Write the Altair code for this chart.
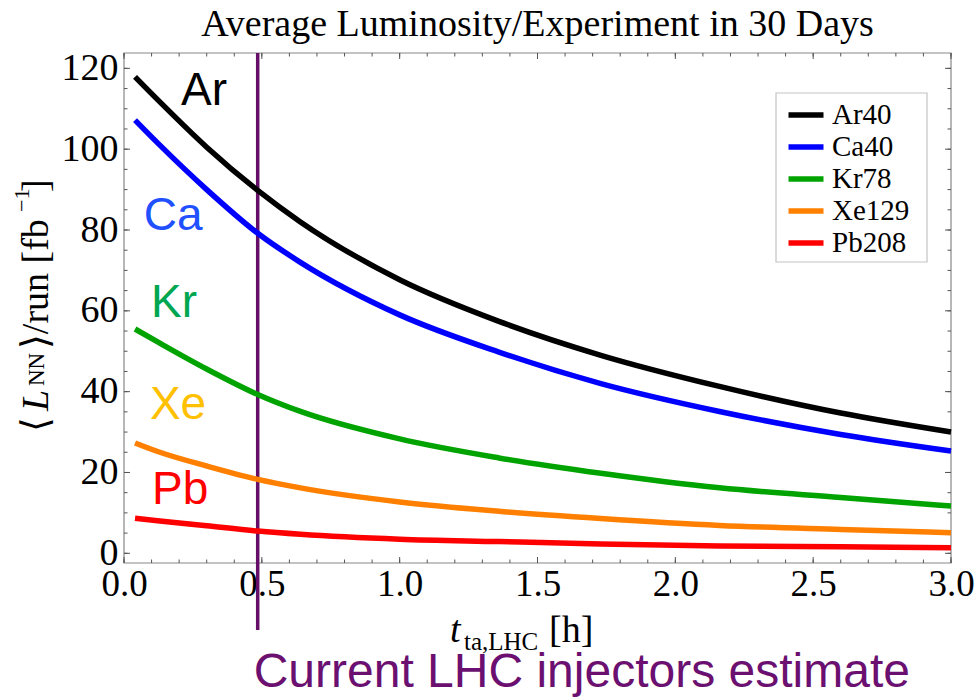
import altair as alt
import pandas as pd

# Turnaround time at the LHC [h]
t_h = [0.04, 0.13, 0.30, 0.485, 0.64, 1.0, 1.36, 1.73, 2.16, 2.6, 3.0]

# Average nucleon-nucleon luminosity per run [fb^-1]
lumi_ar40 = [117.9, 111.7, 100.5, 89.8, 82.0, 67.7, 57.4, 49.0, 41.3, 34.7, 30.0]
lumi_ca40 = [107.2, 101.0, 90.0, 79.2, 72.0, 59.0, 49.8, 42.0, 35.1, 29.4, 25.3]
lumi_kr78 = [55.5, 52.0, 45.6, 39.3, 35.1, 28.3, 23.6, 19.8, 16.2, 13.8, 11.7]
lumi_xe129 = [27.3, 25.0, 21.6, 18.3, 16.2, 12.7, 10.4, 8.6, 6.9, 5.9, 5.1]
lumi_pb208 = [8.7, 8.0, 6.8, 5.5, 4.7, 3.5, 2.9, 2.3, 1.8, 1.6, 1.4]

isotopes = ["Ar40", "Ca40", "Kr78", "Xe129", "Pb208"]
line_colors = ["#000000", "#0000ff", "#00a300", "#ff8000", "#ff0000"]

# Element tags written next to the curves (data coordinates of the text anchor)
tag_text = ["Ar", "Ca", "Kr", "Xe", "Pb"]
tag_t = [0.207, 0.072, 0.098, 0.094, 0.102]
tag_v = [110.9, 80.0, 58.5, 33.3, 12.1]
tag_colors = ["#000000", "#2050ff", "#00a650", "#ffc000", "#ff0000"]

# Turnaround time expected with the current LHC injectors
current_t = [0.485]

x_major = [0.0, 0.5, 1.0, 1.5, 2.0, 2.5, 3.0]
x_minor = [round(0.1 * i, 1) for i in range(31)]
y_major = [0, 20, 40, 60, 80, 100, 120]
y_minor = [5 * i for i in range(25)]

rows = []
for name, vals in zip(isotopes, [lumi_ar40, lumi_ca40, lumi_kr78, lumi_xe129, lumi_pb208]):
    for t, v in zip(t_h, vals):
        rows.append({"t": t, "v": v, "isotope": name})
curves = pd.DataFrame(rows)
tags = pd.DataFrame({"label": tag_text, "t": tag_t, "v": tag_v, "c": tag_colors})
marker = pd.DataFrame({"t": current_t})
one = pd.DataFrame({"k": [0]})

W, H = 827, 510
SERIF = "Liberation Serif, DejaVu Serif, serif"
SANS = "Liberation Sans, Arial, sans-serif"
FRAME = "#888888"
TICK = "#555555"

xscale = alt.Scale(domain=[0, 3], nice=False, zero=False)
yscale = alt.Scale(domain=[-2.4, 123.8], nice=False, zero=False)


def x_ticks(values, y0, y1):
    # inward frame ticks along the bottom or top edge
    return alt.Chart(pd.DataFrame({"t": values})).mark_rule(
        color=TICK, strokeWidth=1).encode(
        x=alt.X("t:Q", scale=xscale, axis=None), y=alt.value(y0), y2=alt.value(y1))


def y_ticks(values, x0, x1):
    # inward frame ticks along the left or right edge
    return alt.Chart(pd.DataFrame({"v": values})).mark_rule(
        color=TICK, strokeWidth=1).encode(
        y=alt.Y("v:Q", scale=yscale, axis=None), x=alt.value(x0), x2=alt.value(x1))


frame = alt.Chart(one).mark_rect(filled=False, stroke=FRAME, strokeWidth=1.2).encode(
    x=alt.value(0), x2=alt.value(W), y=alt.value(0), y2=alt.value(H))

legend_box = alt.Chart(one).mark_rect(fill="white", stroke="#c4c4c4", strokeWidth=1.2).encode(
    x=alt.value(652), x2=alt.value(803), y=alt.value(40), y2=alt.value(209))

lines = alt.Chart(curves).mark_line(strokeWidth=5.5, interpolate="monotone").encode(
    x=alt.X("t:Q", scale=xscale,
            axis=alt.Axis(orient="bottom", values=x_major, format=".1f", ticks=False,
                          domain=False, grid=False, title=None, labelFont=SERIF,
                          labelFontSize=37, labelColor="black", labelPadding=3,
                          labelFlush=False)),
    y=alt.Y("v:Q", scale=yscale,
            axis=alt.Axis(orient="left", values=y_major, format="d", ticks=False,
                          domain=False, grid=False, title=None, labelFont=SERIF,
                          labelFontSize=38, labelColor="black", labelPadding=6,
                          labelFlush=False)),
    color=alt.Color("isotope:N", sort=isotopes,
                    scale=alt.Scale(domain=isotopes, range=line_colors),
                    legend=alt.Legend(title=None, orient="none", legendX=652, legendY=40,
                                      symbolType="M-1.25,0H1.25", symbolSize=784,
                                      symbolStrokeWidth=5.5, symbolOffset=8,
                                      labelFont=SERIF, labelFontSize=29,
                                      labelColor="black", labelOffset=9, padding=5,
                                      rowPadding=-1.5)),
)

tag_layer = alt.Chart(tags).mark_text(font=SANS, fontSize=46, align="left",
                                      baseline="alphabetic").encode(
    x=alt.X("t:Q", scale=xscale, axis=None),
    y=alt.Y("v:Q", scale=yscale, axis=None),
    text="label:N",
    color=alt.Color("c:N", scale=None),
)

marker_line = alt.Chart(marker).mark_rule(color="#650f68", strokeWidth=3.5).encode(
    x=alt.X("t:Q", scale=xscale, axis=None),
    y=alt.value(0),
    y2=alt.value(577),
)

marker_text = alt.Chart(marker).mark_text(
    text="Current LHC injectors estimate", font=SANS, fontSize=48,
    color="#6b1070", align="left", baseline="alphabetic", dx=-4,
).encode(x=alt.X("t:Q", scale=xscale, axis=None), y=alt.value(634))


def label(txt, x, y, size, angle=0, italic=False):
    return alt.Chart(one).mark_text(
        text=txt, font=SERIF, fontSize=size, color="black", align="left",
        baseline="alphabetic", angle=angle,
        fontStyle="italic" if italic else "normal",
    ).encode(x=alt.value(x), y=alt.value(y))


x_title = [
    label("t", 326, 589, 38, italic=True),
    label("ta,LHC", 340, 597, 25),
    label("[h]", 425, 589, 38),
]
y_title = [
    label("\u27e8", -76, 379, 38, angle=270),
    label("L", -76, 358, 38, angle=270, italic=True),
    label("NN", -80, 333, 23, angle=270),
    label("\u27e9/run [fb", -76, 296, 38, angle=270),
    label("\u22121", -95, 159, 22, angle=270),
    label("]", -76, 139, 38, angle=270),
]

chart = alt.layer(
    frame,
    x_ticks(x_major, H, H - 6), x_ticks(x_minor, H, H - 3.5),
    x_ticks(x_major, 0, 6), x_ticks(x_minor, 0, 3.5),
    y_ticks(y_major, 0, 6), y_ticks(y_minor, 0, 3.5),
    y_ticks(y_major, W, W - 6), y_ticks(y_minor, W, W - 3.5),
    legend_box,
    marker_line,
    lines,
    tag_layer,
    marker_text,
    *x_title,
    *y_title,
).resolve_axis(x="independent", y="independent").properties(
    width=W,
    height=H,
    title=alt.TitleParams("Average Luminosity/Experiment in 30 Days", font=SERIF,
                          fontSize=38, fontWeight="normal", color="black",
                          anchor="middle", frame="group", offset=5),
    autosize=alt.AutoSizeParams(type="none"),
    padding={"left": 124, "top": 53, "right": 26, "bottom": 136},
).configure_view(stroke=None)

chart.save("out.html", embed_options={"renderer": "svg", "actions": False})
